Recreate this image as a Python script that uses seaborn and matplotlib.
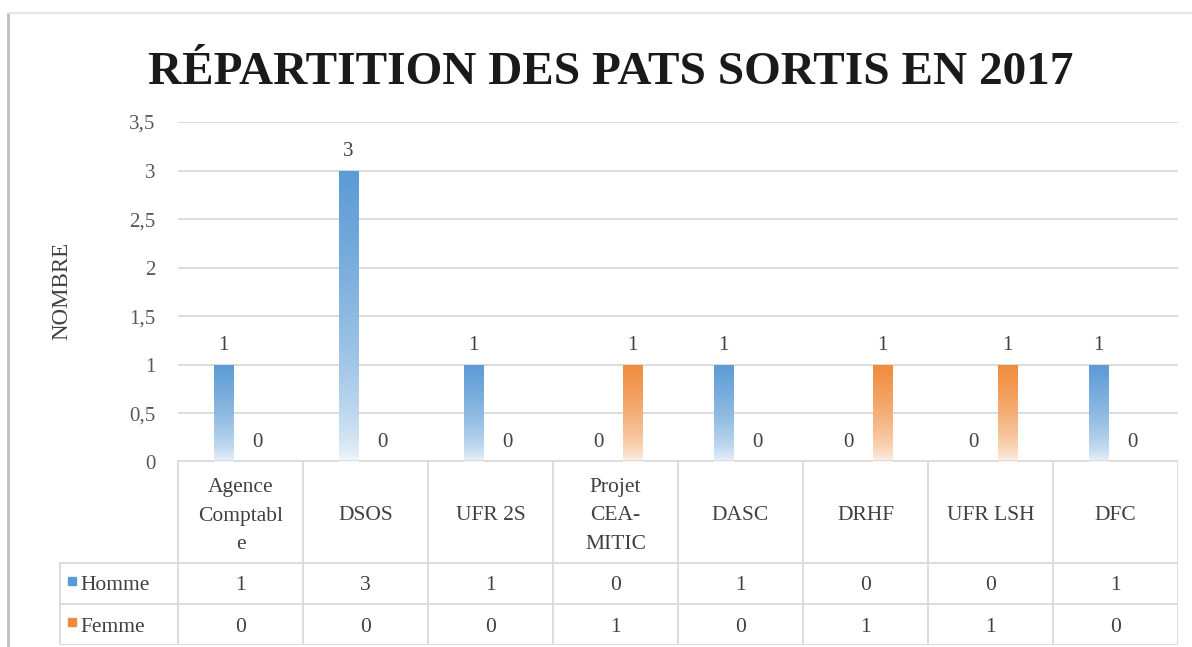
import numpy as np
import pandas as pd
import seaborn as sns
import matplotlib.pyplot as plt
from matplotlib.colors import to_rgb

# data
departements = ["Agence Comptable", "DSOS", "UFR 2S", "Projet CEA-MITIC",
                "DASC", "DRHF", "UFR LSH", "DFC"]
entetes = ["Agence\nComptabl\ne", "DSOS", "UFR 2S", "Projet\nCEA-\nMITIC",
           "DASC", "DRHF", "UFR LSH", "DFC"]
homme = [1, 3, 1, 0, 1, 0, 0, 1]
femme = [0, 0, 0, 1, 0, 1, 1, 0]
series = ["Homme", "Femme"]
y_ticks = [0, 0.5, 1, 1.5, 2, 2.5, 3, 3.5]
y_tick_labels = ["0", "0,5", "1", "1,5", "2", "2,5", "3", "3,5"]

couleurs = {"Homme": "#5B9BD5", "Femme": "#F08B3C"}
SERIF = ["Liberation Serif", "DejaVu Serif"]
GRIS = "#D9D9D9"
TEXTE = "#404040"

df = pd.DataFrame({
    "Departement": departements * 2,
    "Sexe": ["Homme"] * len(departements) + ["Femme"] * len(departements),
    "Nombre": homme + femme,
})

sns.set_theme(style="white")
plt.rcParams["font.family"] = SERIF

W, H = 1192, 647
fig = plt.figure(figsize=(W / 100, H / 100), dpi=100)

# main plot area
ax = fig.add_axes([178 / W, 1 - 462 / H, 1000 / W, 340 / H])
sns.barplot(data=df, x="Departement", y="Nombre", hue="Sexe", order=departements,
            hue_order=series, palette=couleurs, width=0.544, gap=0.44,
            ax=ax, legend=False, zorder=3)

ax.set_ylim(0, 3.5)
ax.set_xlim(-0.5, len(departements) - 0.5)
ax.set_yticks(y_ticks)
ax.set_yticklabels(y_tick_labels, color="#595959", fontsize=15)
ax.tick_params(axis="y", length=0, pad=16)
ax.set_xticks([])
ax.set_xlabel("")
ax.set_ylabel("")
for s in ax.spines.values():
    s.set_visible(False)
ax.yaxis.grid(True, color=GRIS, lw=1.3, zorder=0)
ax.set_axisbelow(True)

# gradient fill (solid at top, fading to white at the bottom)
for cont, nom in zip(ax.containers, series):
    rgb = np.array(to_rgb(couleurs[nom]))
    t = np.linspace(0, 1, 256) ** 0.55  # 0 at bottom, 1 at top
    mix = 0.03 + 0.97 * t
    cols = rgb[None, :] * mix[:, None] + (1 - mix[:, None])
    grad = cols[:, None, :]
    for p in cont.patches:
        if p.get_height() <= 0:
            p.set_visible(False)
            continue
        x0, y0 = p.get_x(), p.get_y()
        im = ax.imshow(grad, extent=[x0, x0 + p.get_width(), y0, y0 + p.get_height()],
                       origin="lower", aspect="auto", zorder=3, interpolation="bicubic")
        im.set_clip_path(p)
        p.set_facecolor("none")
        p.set_edgecolor("none")
    ax.bar_label(cont, labels=[str(int(v)) for v in cont.datavalues], padding=7,
                 fontsize=15, color=TEXTE)

ax.set_ylim(0, 3.5)
ax.set_xlim(-0.5, len(departements) - 0.5)

# data table under the plot
tax = fig.add_axes([59 / W, 1 - 645 / H, (1178 - 59) / W, 185 / H])
x_left = -0.5 - 119 / 125
x_right = len(departements) - 0.5
tax.set_xlim(x_left, x_right)
tax.set_ylim(185, 0)
tax.axis("off")

lk = dict(color=GRIS, lw=1.3, solid_capstyle="butt")
tax.plot([-0.5, x_right], [0, 0], **lk)
for i in range(len(departements) + 1):
    tax.plot([i - 0.5, i - 0.5], [0, 185], **lk)
for yy in [103, 144, 184.5]:
    tax.plot([x_left, x_right], [yy, yy], **lk)
tax.plot([x_left + 0.005, x_left + 0.005], [103, 185], **lk)

for i, lab in enumerate(entetes):
    tax.text(i, 56, lab, ha="center", va="center", fontsize=15.5,
             color=TEXTE, linespacing=1.65)

lignes = {"Homme": homme, "Femme": femme}
for nom, yy in zip(series, [126, 167]):
    tax.plot([x_left + 0.105], [yy - 5], marker="s", ms=5.5, color=couleurs[nom],
             linestyle="none")
    tax.text(x_left + 0.17, yy, nom, ha="left", va="center", fontsize=15.5, color=TEXTE)
    for i, v in enumerate(lignes[nom]):
        tax.text(i, yy, str(v), ha="center", va="center", fontsize=15.5, color=TEXTE)

# title and axis title
fig.text(611 / W, 1 - 73 / H, "RÉPARTITION DES PATS SORTIS EN 2017",
         ha="center", va="center", fontsize=34, fontweight="bold", color="#1a1a1a")
fig.text(62 / W, 1 - 291 / H, "NOMBRE", rotation=90, ha="center", va="center",
         fontsize=16.5, color=TEXTE)

# frame of the chart area
fig.add_artist(plt.Line2D([8 / W, 8 / W], [0, 1 - 13 / H], color="#BFBFBF", lw=2))
fig.add_artist(plt.Line2D([8 / W, 1], [1 - 13 / H, 1 - 13 / H], color="#E6E6E6", lw=1.5))

fig.savefig("out.png", dpi=100)
